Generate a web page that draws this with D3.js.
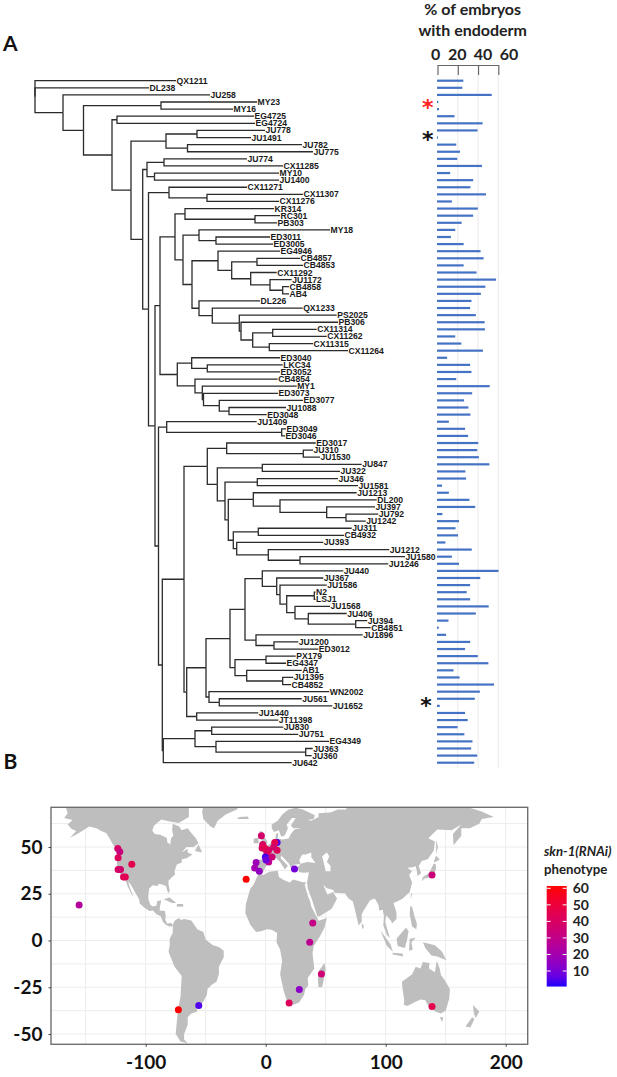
<!DOCTYPE html>
<html><head><meta charset="utf-8">
<script src="https://cdn.jsdelivr.net/npm/d3@7"></script>
<style>html,body{margin:0;padding:0;background:#fff}svg{display:block}</style>
</head><body><svg id="c" width="617" height="1077"></svg>
<script>
// ---------- DATA ----------
// Phylogeny: Newick, ":n" is the node's horizontal distance from the root.
const treeNewick = "(QX1211:141,DL238:114,(JU258:175,((MY23:222,MY16:198):126,((EG4725:219,EG4724:220):82,(((JU778:230,JU1491:216):162,(JU782:267,JU775:278):152.5):131,(((JU774:212,CX11285:248):129,(MY10:244,JU1400:244):119.5):112,((CX11271:212,(CX11307:268,CX11276:244):172):134,(((( KR314:239,(RC301:245,PB303:242):220):150,((MY18:295,(ED3011:235,ED3005:238):181):164,((EG4946:245,((CB4857:265,CB4853:268):222,(CX11292:241.7,(JU1172:256.7,(CB4858:254,AB4:254):247.7):235):215.7):196.7):183,(DL226:225,(QX1233:267.7,(PS2025:301.7,(PB306:303,((CX11314:281.7,CX11262:291.7):237.7,(CX11315:278,CX11264:313):234.3):217.7):206):204.3):177.3):164):157):148):140,((ED3040:245,(LKC34:247.7,ED3052:245):172.3):156.7,(CB4854:242.7,(MY1:261.7,(ED3073:243,(ED3077:268,(JU1088:251,ED3048:231.7):194):184.3):168.5):167.3):160):142.3):125,((JU1409:221.7,(ED3049:251,ED3046:250):246.7):131.7,((((ED3017:280.7,(JU310:278,JU1530:285):268.3):191.7,((JU847:326.7,JU322:305):227.3,((JU346:303,JU1581:323):222.3,((JU1213:321.7,(DL200:341.7,(JU397:340,(JU792:343.3,JU1242:330.7):311):291.7):245):218.3,((JU311:316.7,CB4932:309):223.3,(JU393:288.3,(JU1212:354.3,(JU1580:370,JU1246:353.3):265):233.3):201.7):198.3):193.3):190):182.3):172.3,((((( JU440:308.3,(JU367:288.3,(JU1586:291.7,((N2:280.5,LSJ1:280.5):279.3,(JU1568:295,(JU406:311.7,(JU394:332.3,CB4851:335.7):320.7):273.3):260):251.7):245):241.7):227.3,(JU1896:327.7,(JU1200:263.3,ED3012:283.3):239):221):210,((PX179:260.7,EG4347:251):231,(AB1:266.7,(JU1395:258.3,CB4852:256):247.7):211.7):200):195,(WN2002:294.3,(JU561:266.7,JU1652:297.3):184.3):174):171,(JU1440:223.3,JT11398:243.3):161.7):151.7):149,(((JU830:248.3,JU751:263.3):176.7,(EG4349:294,(JU363:277.7,JU360:276.7):270.7):181):160,JU642:256.7):128.3):127.3):123.5):120):113.5):107.7):96):77):48.5):28):0";

// % of embryos with endoderm, one per tree tip, top to bottom
const endodermPct = [26,25,54,1.3,2,17.3,45,40,1,19,22.7,20,44.3,13,35.7,33,48.3,14.7,40.3,35.7,24.3,18,13.7,26.3,43,46,26.3,
  39,58.3,47.7,43.3,34,32.7,38.3,47,47.3,18,24,45.3,10,32.7,34,19,52,34.7,26.7,31,33,11.7,27.7,30.7,40.7,39.7,41.3,51.7,28,28.7,5,11.7,32,37.7,
  5.3,21.7,18.3,20.7,8.3,34.3,14.7,21.7,60.7,42.7,32.7,29.3,32.7,51,38.3,11.3,1.7,9,32.7,27.7,40.3,50.7,16.3,22.3,56.3,42.3,37.3,2.7,27.7,30.3,20.3,27,35,33.7,39.7,36.7];
const barTicks = [0,20,40,60];

const mapXTicks = [-100,0,100,200];
const mapYTicks = [50,25,0,-25,-50];
const mapXMinor = [-150,-50,50,150];
const mapYMinor = [62.5,37.5,12.5,-12.5,-37.5];
const legendTicks = [10,20,30,40,50,60];

// Sampling sites: lon, lat, phenotype
const sites = [[9.5,52.4,5],[-155.5,19,25],[-123.3,49.2,40],[-121.6,47.4,33],[-123,44.2,42],[-123,38,40],[-121,38,38],[-118.5,34,42],[-117,34,44],[-111.6,40.8,45],
 [-72.8,-37,60],[-55.8,-34.8,4],[-16.3,32.8,60],[-3.6,56,38],[-2.5,51.3,40],[-3,49.5,42],[-.3,49.2,45],[2.5,48.3,40],[1.1,47,42],[7.5,52.4,45],[9.5,48.3,42],[6.7,50,38],[5.3,44.7,35],[2.5,42,28],[-.3,44.7,3],[.3,43,8],
 [-8,41.7,18],[-9.2,38.8,20],[-5.3,37,15],[24,38.3,9],[19.5,-33.4,42],[28,-26.2,14],[138.6,35,34],[39.2,9.3,31],[36.7,-1,28],[46.4,-17.9,35],[138.6,-35.3,45]];

// Land outlines as lon/lat rings, from the reference
const landNorthAmerica = [[-168,65.5],[-165,68],[-167,72],[-64,72],[-64,66],[-72.5,62.9],[-80,63.6],[-87,64.7],[-93,61.5],[-94.5,58.8],[-92.5,57],[-88,56.5],[-82.5,55],[-82,52.5],[-79.5,51.3],[-79,54.5],[-77,56],[-78,59],[-77.5,62.4],[-72,61],[-70,59],[-65,60],[-62,57.5],[-58,54.5],[-56,52],[-60,50],[-66,50],[-70,47],[-65,49],[-65,47],[-61,46],[-66,44],[-70,43.5],[-70,41.7],[-74,40.6],[-76,37],[-75.5,35.3],[-78,34],[-81,32],[-81,30],[-80,27],[-80.5,25.2],[-82,26.5],[-83,29],[-85,29.7],[-89,30.3],[-90,29.2],[-94,29.5],[-97,28],[-97.7,25],[-97.8,22],[-96,19],[-94,18.2],[-91,18.7],[-90.5,21],[-87,21.5],[-88,18.5],[-88.5,16],[-84,15.8],[-83.3,13],[-83.7,11],[-82,9],[-79.5,9.5],[-77.4,8.5],[-78,7.5],[-80,7.5],[-83,8.3],[-85.7,10],[-87.5,13],[-91,14],[-94,16],[-97,15.8],[-101,17.5],[-105,19.8],[-105.5,22],[-109,26],[-112.5,30],[-114.7,31.5],[-113,28],[-110,23],[-112,25],[-115,29],[-117,32.5],[-120.5,34.5],[-122.5,37.5],[-124,40.5],[-124,46],[-123,49],[-127,51],[-130,54.5],[-133,57.5],[-137,58.5],[-141,60],[-147,61],[-152,59],[-157,57],[-163,55],[-158,58.5],[-162,59.8],[-165,62],[-161,64.5]];
const landSouthAmerica = [[-77.4,8.5],[-75.5,10.8],[-72,12],[-71,11],[-68,11.5],[-62,10.7],[-57,6],[-52,4.5],[-50,.5],[-44,-2.5],[-39,-3.5],[-35,-5.5],[-35,-9],[-39,-14],[-39,-18],[-41,-22],[-45,-23.7],[-48.5,-26],[-49,-29],[-53,-33.7],[-58,-34.5],[-57,-38],[-62,-39],[-65,-41],[-65,-45],[-68,-50],[-68,-53],[-65,-55],[-71,-54],[-75,-50],[-74,-43],[-73,-37],[-71,-30],[-70,-19],[-76,-14],[-81,-6],[-80,-2.5],[-80,1],[-77.5,4]];
const landAfrica = [[-6,35.8],[-2,35],[3,36.8],[10,37.3],[11,34],[15,32.3],[20,31],[23,32.6],[31,31.2],[34,31.2],[32.5,30],[35,24],[37,21],[38,18],[43,12],[44,10.5],[51,12],[49,7],[45,2],[40,-3],[39,-7],[40.5,-15],[35,-20],[35.5,-24],[33,-26],[32,-29],[28,-33],[25,-34],[20,-34.8],[18.3,-33.5],[15,-27],[12,-18],[13.7,-11],[12,-5],[9,-1],[9.5,4],[5,5.8],[1,6],[-4,5],[-8,4.5],[-13,8.5],[-17,14.7],[-16.5,19.5],[-13,27.5],[-10,30]];
const landEurasia = [[-9,38.7],[-9,43],[-2,43.5],[-1,46],[-4.5,48.5],[-1,49.5],[2,51],[4,52],[8,54],[8.5,57],[10.5,57.5],[10,54.5],[14,54],[19,54.5],[21,57],[24,59.3],[29.5,60],[23,60],[21,61.5],[25,65.5],[22,65.5],[17.5,62],[18.5,60],[16,56.3],[13,55.5],[11,59],[7,58],[5,60],[5,62],[10,64],[14,67.5],[19,70],[25,71],[31,70],[41,67],[40,65],[35,64.5],[38,64],[44,66],[44,68],[54,68.5],[60,70],[67,70],[68,72],[73,72],[80,73],[90,75],[105,77],[113,74],[130,72],[140,72.5],[160,71],[170,71],[180,69],[190,66],[180,65],[178,62.5],[170,60],[163,60],[163,56],[156.5,51],[156,57],[163,62],[155,59],[143,59.3],[135.5,54.7],[141,53],[140,48],[135,43.5],[130,42.5],[127.5,39.8],[129.5,36],[126.5,34.5],[126,37],[125,39.7],[121.5,39],[118,39],[122,37],[119.5,35],[122,31],[120,26],[114,22.3],[110,21],[106.5,20],[109,15],[109,11.5],[105,9],[105,10],[100.5,13.5],[99.5,10],[103.5,1.3],[101,3],[98,8],[98.5,13],[97.5,16.5],[94.5,16],[94,19],[91,22.5],[87,21.5],[82,16.5],[80,14],[80,10],[77.5,8],[73,20],[72.5,21],[69,22.5],[66,25.3],[57,25.5],[56.5,27],[51,28],[48,30],[50,26.5],[51.5,24.5],[56,26],[59.5,22.5],[55,17],[45,13],[43,13],[39,21],[35,28],[34.5,31.3],[36,36.5],[32,36.2],[28,36.5],[26.5,39],[29,41],[35,42],[41.5,41.5],[38,44.5],[38,47],[33.5,46],[30.5,46],[28,43],[29,41],[26,40.7],[23,40.5],[24,38],[22.5,36.5],[19.5,41],[13,45.5],[12.5,44],[18.5,40],[16,38],[12,42],[8.5,44.3],[3.5,43.3],[3,41.7],[0,39.5],[-2,36.8],[-5.5,36],[-9,37]];
const landAustralia = [[113.5,-22],[114,-26],[115.5,-32],[115,-34.3],[118,-35],[124,-33],[129,-31.5],[133,-32],[135.5,-35],[138,-33],[138,-35.5],[141,-38],[146,-39],[150,-37.5],[153,-31],[153.5,-26],[149,-21],[146,-18.5],[145,-15],[142.5,-10.8],[141,-17],[136,-15],[136.5,-12],[131,-11.5],[129,-15],[125,-14],[122,-18],[117,-20.5]];
const landIslands = [
 [[-52,72],[-53,69],[-52,65],[-46,61],[-43,60],[-40,64],[-33,67.5],[-24,70],[-22,72]],
 [[-59,47.8],[-56,51.5],[-53,47]],
 [[-24,65],[-14,65],[-15,66.3],[-22,66]],
 [[-85,22],[-80,23],[-74.5,20],[-78,20]],
 [[-74,19.5],[-69,19.5],[-68.5,18.2],[-74,18]],
 [[-5.5,50],[1,51],[1.5,53],[-2,56],[-2,58],[-5,58.5],[-5,55],[-3,53.5],[-5,52]],
 [[-10,52],[-6,52],[-6,55],[-10,54.5]],
 [[130,31.5],[131,34],[136,36],[140,41],[141.5,41],[142,39],[140.5,35],[136,33.7],[132,33]],
 [[140,42],[142,45.5],[145,43.3],[141.5,42]],
 [[142,46],[142,54],[143.5,50]],
 [[95.5,5.5],[104,-2],[106,-6],[101,-3]],
 [[105.5,-6.5],[114,-7],[114.5,-8.5],[106,-7.5]],
 [[109,1],[117,7],[119,5],[118,1],[116,-4],[110,-3]],
 [[119.5,-5.5],[120,1],[125,1.5],[121.5,-1],[122.5,-5]],
 [[131,-1],[141,-2.5],[147,-6],[150.5,-10.5],[143,-8.5],[138,-8],[133,-4]],
 [[120.5,18.5],[122,18],[124,13],[126,9],[125.5,6],[122,7.5],[120,14]],
 [[80,9.5],[82,7.5],[80.5,6]],
 [[121,25],[122,25],[120.8,22]],
 [[172.7,-34.5],[178,-38],[175,-41.5],[173.5,-39]],
 [[172,-41],[174,-42],[170.5,-46.5],[166.5,-46]],
 [[145,-41],[148,-41],[147,-43.5]],
 [[49,-12],[50,-16],[47,-25],[44,-25],[43.5,-21],[44.5,-16]]
];
const lakeCaspian = [[47,45],[51,47],[53,45],[51,42],[54,40],[54,37],[50,37],[49,40]];

// ---------- LAYOUT ----------
const svg = d3.select("#c");
const sans = "'Liberation Sans',Arial,sans-serif", humanist = "Lato,'Open Sans',sans-serif";

function parseNewick(s){
  s = s.replace(/\s+/g,""); let i = 0;
  function node(){
    const n = {};
    if (s[i] === "("){
      n.children = []; i++;
      n.children.push(node());
      while (s[i] === ","){ i++; n.children.push(node()); }
      i++; // ")"
    } else {
      let b = i; while (!":,)".includes(s[i])) i++;
      n.name = s.slice(b,i);
    }
    if (s[i] === ":"){ i++; let b = i; while (i < s.length && !",)".includes(s[i])) i++; n.depth0 = +s.slice(b,i); }
    return n;
  }
  return node();
}
const root = d3.hierarchy(parseNewick(treeNewick));
const leaves = root.leaves();
const treeX = d3.scaleLinear().domain([0,500]).range([35,535]);
const rowY  = d3.scaleLinear().domain([0,leaves.length-1]).range([80.7,762.7]);
leaves.forEach((l,i)=>{ l.row = i; l.yy = rowY(i); });
root.eachAfter(n=>{ if(n.children) n.yy = (n.children[0].yy + n.children[n.children.length-1].yy)/2; });

const treeG = svg.append("g").attr("fill","none").attr("stroke","#2b2b2b").attr("stroke-width",1.3);
treeG.selectAll("path").data(root.links()).join("path")
  .attr("d",d=>`M${treeX(d.source.data.depth0)},${d.source.yy}V${d.target.yy}H${treeX(d.target.data.depth0)}`);
svg.append("g").attr("font-family",sans).attr("font-weight","bold").attr("font-size",8.6).attr("fill","#1a1a1a")
  .selectAll("text").data(leaves).join("text")
  .attr("x",d=>treeX(d.data.depth0)+.5).attr("y",d=>d.yy).attr("dy","0.35em").text(d=>d.data.name);

// Bars
const barX = d3.scaleLinear().domain([0,60]).range([437.5,498.3]);
const gridBottom = 768;
svg.append("g").attr("stroke","#eeeeee").attr("stroke-width",1.2)
  .selectAll("line").data(barTicks.slice(1)).join("line")
  .attr("x1",barX).attr("x2",barX).attr("y1",75).attr("y2",gridBottom);
svg.append("g").selectAll("rect").data(endodermPct).join("rect")
  .attr("x",barX(0)-.5).attr("y",(d,i)=>rowY(i)-1.1).attr("height",2.2)
  .attr("width",d=>barX(d)-barX(0)).attr("fill","#4472C4");
const barAxis = svg.append("g").attr("transform","translate(0,65)")
  .call(d3.axisBottom(barX).tickValues(barTicks).tickSize(10).tickSizeOuter(0).tickFormat(""));
barAxis.selectAll("line,path").attr("stroke","#666").attr("stroke-width",1.2);
const barLabelX = [435.7,457.3,483,509];
svg.append("g").attr("font-family",humanist).attr("font-weight","bold").attr("font-size",16).attr("fill","#222").attr("text-anchor","middle")
  .selectAll("text").data(barTicks).join("text").attr("x",(d,i)=>barLabelX[i]).attr("y",60).text(d=>d);
svg.append("text").attr("x",472.7).attr("y",15).attr("text-anchor","middle").attr("font-family",humanist).attr("font-weight","bold").attr("font-size",16).attr("fill","#222").text("% of embryos");
svg.append("text").attr("x",472.7).attr("y",35.5).attr("text-anchor","middle").attr("font-family",humanist).attr("font-weight","bold").attr("font-size",16).attr("fill","#222").text("with endoderm");

// Asterisks
const stars = [{x:427.7,row:3.42,c:"#ff2020"},{x:427.7,row:7.93,c:"#111"},{x:426,row:87.6,c:"#111"}];
svg.append("g").attr("font-family","'DejaVu Sans',sans-serif").attr("font-weight","bold").attr("font-size",22).attr("text-anchor","middle")
  .selectAll("text").data(stars).join("text").attr("x",d=>d.x).attr("y",d=>rowY(d.row)+10).attr("fill",d=>d.c).text("*");

// Panel letters
svg.append("text").attr("x",3).attr("y",50.5).attr("font-family",humanist).attr("font-weight","bold").attr("font-size",21).attr("fill","#111").text("A");
svg.append("text").attr("x",3.5).attr("y",769).attr("font-family",humanist).attr("font-weight","bold").attr("font-size",21).attr("fill","#111").text("B");

// Map
const lonX = d3.scaleLinear().domain([-100,200]).range([145.7,505.7]);
const latY = d3.scaleLinear().domain([50,-50]).range([847,1034]);
const pL=51,pR=527.7,pT=807.3,pB=1044.3;
svg.append("clipPath").attr("id","panel").append("rect").attr("x",pL).attr("y",pT).attr("width",pR-pL).attr("height",pB-pT);
const map = svg.append("g").attr("clip-path","url(#panel)");
const gridC = "#ececec";
map.append("g").attr("stroke",gridC).attr("stroke-width",1).selectAll("line").data(mapXTicks.concat(mapXMinor)).join("line")
  .attr("x1",lonX).attr("x2",lonX).attr("y1",pT).attr("y2",pB);
map.append("g").attr("stroke",gridC).attr("stroke-width",1).selectAll("line").data(mapYTicks.concat(mapYMinor)).join("line")
  .attr("y1",latY).attr("y2",latY).attr("x1",pL).attr("x2",pR);
const ring = d3.line().x(d=>lonX(d[0])).y(d=>latY(d[1])).curve(d3.curveLinearClosed);
const rings = [landNorthAmerica,landSouthAmerica,landAfrica,landEurasia,landAustralia,...landIslands];
map.append("g").attr("fill","#bebebe").selectAll("path").data(rings).join("path").attr("d",ring);
map.append("path").attr("d",ring(lakeCaspian)).attr("fill","#fff");
const pheno = d3.scaleLinear().domain([0,60]).range(["#0000ff","#ff0000"]).interpolate(d3.interpolateLab);
map.append("g").selectAll("circle").data(sites).join("circle")
  .attr("cx",d=>lonX(d[0])).attr("cy",d=>latY(d[1])).attr("r",3.5).attr("fill",d=>pheno(d[2]));
svg.append("rect").attr("x",pL).attr("y",pT).attr("width",pR-pL).attr("height",pB-pT).attr("fill","none").attr("stroke","#6f6f6f").attr("stroke-width",1.4);

const xa = svg.append("g").attr("transform",`translate(0,${pB})`).call(d3.axisBottom(lonX).tickValues(mapXTicks).tickSize(2.5).tickPadding(9).tickFormat(d=>d));
const ya = svg.append("g").attr("transform",`translate(${pL},0)`).call(d3.axisLeft(latY).tickValues(mapYTicks).tickSize(2.5).tickPadding(6).tickFormat(d=>d));
[xa,ya].forEach(a=>{ a.select(".domain").remove(); a.selectAll("line").attr("stroke","#444");
  a.selectAll("text").attr("font-family",humanist).attr("font-weight","bold").attr("font-size",19).attr("fill","#111"); });

// Legend
svg.append("text").attr("x",544).attr("y",855.5).attr("font-family",humanist).attr("font-weight","bold").attr("font-style","italic").attr("font-size",13.2).attr("fill","#222").text("skn-1(RNAi)");
svg.append("text").attr("x",544).attr("y",873.5).attr("font-family",humanist).attr("font-weight","bold").attr("font-size",13.2).attr("fill","#222").text("phenotype");
const legY = d3.scaleLinear().domain([10,60]).range([971,888.3]);
const legTop = 61.4, legBot = 0.6, legL = 546.7, legR = 566.7;
const grad = svg.append("linearGradient").attr("id","leg").attr("x1",0).attr("x2",0).attr("y1",1).attr("y2",0);
d3.range(0,1.001,.1).forEach(t=>grad.append("stop").attr("offset",t).attr("stop-color",pheno(legBot+t*(legTop-legBot))));
svg.append("rect").attr("x",legL).attr("y",legY(legTop)).attr("width",legR-legL).attr("height",legY(legBot)-legY(legTop)).attr("fill","url(#leg)");
const tk = svg.append("g").attr("stroke","#fff").attr("stroke-width",1);
tk.selectAll(".l").data(legendTicks).join("line").attr("class","l").attr("x1",legL).attr("x2",legL+4).attr("y1",legY).attr("y2",legY);
tk.selectAll(".r").data(legendTicks).join("line").attr("class","r").attr("x1",legR-4).attr("x2",legR).attr("y1",legY).attr("y2",legY);
svg.append("g").attr("font-family",humanist).attr("font-weight","bold").attr("font-size",14).attr("fill","#222")
  .selectAll("text").data(legendTicks).join("text").attr("x",572.7).attr("y",legY).attr("dy","0.35em").text(d=>d);
</script></body></html>
